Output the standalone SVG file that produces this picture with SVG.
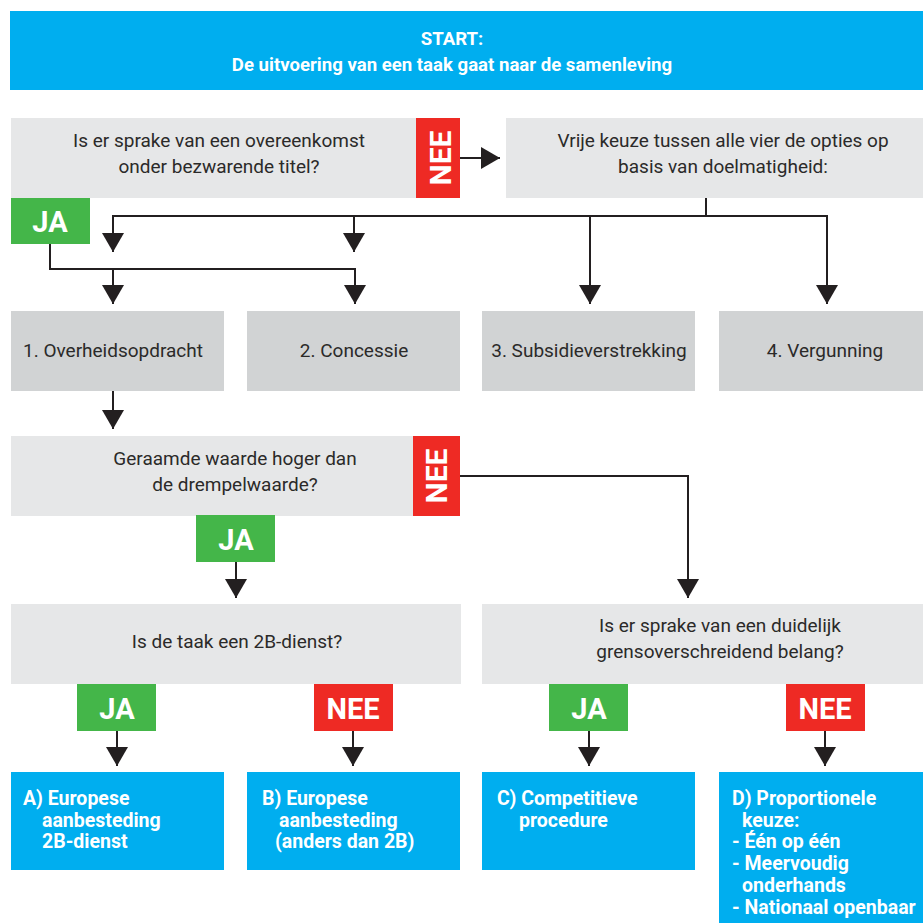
<svg xmlns="http://www.w3.org/2000/svg" width="923" height="923" viewBox="0 0 923 923">
<defs>
<style>
.q{fill:#e6e7e8}
.o{fill:#d1d3d4}
.b{fill:#00aeef}
.g{fill:#44b649}
.r{fill:#ee2a24}
.t{font-family:Roboto,"Noto Sans",sans-serif;font-size:19px;fill:#2b2a29}
.tc{text-anchor:middle}
.w{font-family:Roboto,"Noto Sans",sans-serif;font-weight:bold;font-size:19.5px;fill:#fff}
.hd{font-size:18.6px}
.lbl{font-family:Roboto,"Noto Sans",sans-serif;font-weight:bold;font-size:29px;fill:#fff;text-anchor:middle}
.vl{font-size:30px}
.c{fill:none;stroke:#231f20;stroke-width:2}
.a{fill:none;stroke:#231f20;stroke-width:2;marker-end:url(#ah)}
</style>
<marker id="ah" markerUnits="userSpaceOnUse" markerWidth="19" markerHeight="22" refX="19" refY="11" orient="auto" viewBox="0 0 19 22">
<path d="M0,0 L19,11 L0,22 Z" fill="#231f20"/>
</marker>
</defs>
<rect width="923" height="923" fill="#fff"/>

<g id="start">
<rect class="b" x="10" y="11" width="913" height="79"/>
<text class="w tc hd" x="452" y="45">START:</text>
<text class="w tc hd" x="452" y="71">De uitvoering van een taak gaat naar de samenleving</text>
</g>

<g id="q1">
<rect class="q" x="11" y="118" width="449" height="80"/>
<text class="t tc" x="219" y="147">Is er sprake van een overeenkomst</text>
<text class="t tc" x="219" y="173">onder bezwarende titel?</text>
</g>
<g id="q1-nee">
<rect class="r" x="416" y="118" width="44" height="80"/>
<text class="lbl vl" transform="translate(451,158) rotate(-90)">NEE</text>
</g>
<g id="q1-ja">
<rect class="g" x="11" y="198" width="79" height="46"/>
<text class="lbl" x="50" y="232">JA</text>
</g>

<g id="vrij">
<rect class="q" x="506" y="118" width="417" height="80"/>
<text class="t tc" x="723" y="147">Vrije keuze tussen alle vier de opties op</text>
<text class="t tc" x="723" y="173">basis van doelmatigheid:</text>
</g>

<g id="opt1">
<rect class="o" x="11" y="311" width="213" height="80"/>
<text class="t tc" x="113" y="357">1. Overheidsopdracht</text>
</g>
<g id="opt2">
<rect class="o" x="247" y="311" width="213" height="80"/>
<text class="t tc" x="354" y="357">2. Concessie</text>
</g>
<g id="opt3">
<rect class="o" x="482" y="311" width="213" height="80"/>
<text class="t tc" x="589" y="357">3. Subsidieverstrekking</text>
</g>
<g id="opt4">
<rect class="o" x="719" y="311" width="204" height="80"/>
<text class="t tc" x="825" y="357">4. Vergunning</text>
</g>

<g id="q2">
<rect class="q" x="11" y="436" width="449" height="80"/>
<text class="t tc" x="235" y="465">Geraamde waarde hoger dan</text>
<text class="t tc" x="235" y="491">de drempelwaarde?</text>
</g>
<g id="q2-nee">
<rect class="r" x="413" y="436" width="47" height="80"/>
<text class="lbl vl" transform="translate(447,476) rotate(-90)">NEE</text>
</g>
<g id="q2-ja">
<rect class="g" x="196" y="515" width="79" height="47"/>
<text class="lbl" x="236" y="550">JA</text>
</g>

<g id="q3">
<rect class="q" x="11" y="604" width="450" height="80"/>
<text class="t tc" x="237" y="648">Is de taak een 2B-dienst?</text>
</g>
<g id="q4">
<rect class="q" x="482" y="604" width="441" height="80"/>
<text class="t tc" x="720" y="632">Is er sprake van een duidelijk</text>
<text class="t tc" x="720" y="658">grensoverschreidend belang?</text>
</g>

<g id="q3-ja">
<rect class="g" x="77" y="684" width="79" height="47"/>
<text class="lbl" x="117" y="719">JA</text>
</g>
<g id="q3-nee">
<rect class="r" x="314" y="684" width="79" height="47"/>
<text class="lbl" x="353" y="719">NEE</text>
</g>
<g id="q4-ja">
<rect class="g" x="549" y="684" width="79" height="47"/>
<text class="lbl" x="589" y="719">JA</text>
</g>
<g id="q4-nee">
<rect class="r" x="786" y="684" width="79" height="47"/>
<text class="lbl" x="825" y="719">NEE</text>
</g>

<g id="resA">
<rect class="b" x="11" y="772" width="213" height="98"/>
<text class="w" x="23" y="805">A) Europese</text>
<text class="w" x="42" y="827">aanbesteding</text>
<text class="w" x="42" y="848">2B-dienst</text>
</g>
<g id="resB">
<rect class="b" x="247" y="772" width="213" height="98"/>
<text class="w" x="262" y="805">B) Europese</text>
<text class="w" x="279" y="827">aanbesteding</text>
<text class="w" x="275" y="848">(anders dan 2B)</text>
</g>
<g id="resC">
<rect class="b" x="482" y="772" width="213" height="98"/>
<text class="w" x="497" y="805">C) Competitieve</text>
<text class="w" x="519" y="827">procedure</text>
</g>
<g id="resD">
<rect class="b" x="719" y="772" width="204" height="151"/>
<text class="w" x="732" y="805">D) Proportionele</text>
<text class="w" x="742" y="827">keuze:</text>
<text class="w" x="732" y="848">- Één op één</text>
<text class="w" x="732" y="870">- Meervoudig</text>
<text class="w" x="742" y="892">onderhands</text>
<text class="w" x="732" y="914">- Nationaal openbaar</text>
</g>

<g id="connectors">
<path class="a" d="M460,158 H500"/>
<path class="c" d="M706,198 V216 M113,216 H827"/>
<path class="a" d="M113,215 V252"/>
<path class="a" d="M354,215 V252"/>
<path class="a" d="M590,215 V304"/>
<path class="a" d="M827,215 V304"/>
<path class="c" d="M50,244 V269 H355"/>
<path class="a" d="M113,269 V304"/>
<path class="a" d="M355,268 V304"/>
<path class="a" d="M113,391 V429"/>
<path class="a" d="M460,476 H688 V598"/>
<path class="a" d="M236,562 V598"/>
<path class="a" d="M117,731 V766"/>
<path class="a" d="M353,731 V766"/>
<path class="a" d="M589,731 V766"/>
<path class="a" d="M825,731 V766"/>
</g>
</svg>
